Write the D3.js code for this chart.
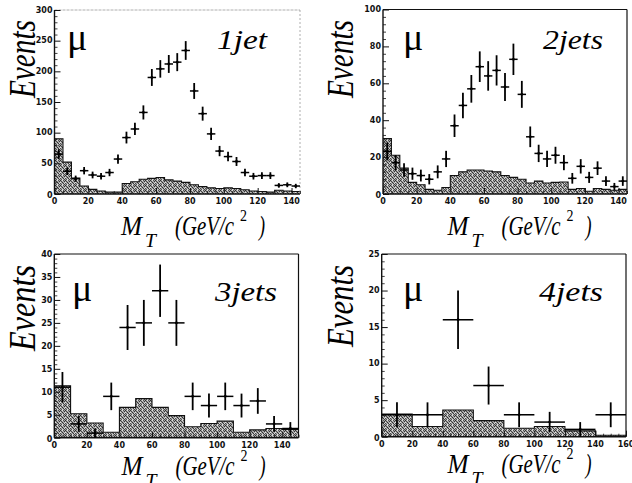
<!DOCTYPE html>
<html><head><meta charset="utf-8">
<script src="https://cdn.jsdelivr.net/npm/d3@7/dist/d3.min.js"></script>
</head><body style="margin:0">
<svg id="chart" width="632" height="483" style="display:block;background:#fff"></svg>
<script>
// ---------------- DATA ----------------
// 1 jet (5 GeV bins, 0-145)
const jet1Centers = [2.5,7.5,12.5,17.5,22.5,27.5,32.5,37.5,42.5,47.5,52.5,57.5,62.5,67.5,72.5,77.5,82.5,87.5,92.5,97.5,102.5,107.5,112.5,117.5,122.5,127.5,132.5,137.5,142.5];
const jet1Data = [65,37,25,38,31,29,35,57,92,106,133,190,204,212,215,234,168,131,98,70,61,53,35,29,30,30,14,15,13];
const jet1Err  = [8,6,5,6,5.5,5.4,6,7.5,9.6,10,11.5,13.8,14.3,14.6,14.7,15.3,13,11.4,10,8.4,7.8,7.3,6,5.4,5.5,5.5,3.7,3.9,3.6];
const jet1BinLo = [0,5,10,15,20,25,30,35,40,45,50,55,60,65,70,75,80,85,90,95,100,105,110,115,120,125,130,135,140];
const jet1Bkg  = [90,52,26,13,7.5,5,3,3,17,20,24,25.5,27,23,21,19,15,12,10,9,10,9,7,5,4,3,6,5,4];
const jet1YTicks = [0,50,100,150,200,250,300];
const jet1XTicks = [0,20,40,60,80,100,120,140];

// 2 jets (5 GeV bins, 0-145)
const jet2Centers = [2.5,7.5,12.5,17.5,22.5,27.5,32.5,37.5,42.5,47.5,52.5,57.5,62.5,67.5,72.5,77.5,82.5,87.5,92.5,97.5,102.5,107.5,112.5,117.5,122.5,127.5,132.5,137.5,142.5];
const jet2Data = [23,17,13,11,10,8,12,19,37,48,57,69,64,67,58,73,54,31,22,19,21,17,8.5,15,9,14,7,4,7];
const jet2Err  = [4.8,4.1,3.6,3.3,3.2,2.8,3.5,4.4,6.1,6.9,7.5,8.3,8,8.2,7.6,8.5,7.3,5.6,4.7,4.4,4.6,4.1,2.9,3.9,3,3.7,2.6,2,2.6];
const jet2BinLo = [0,5,10,15,20,25,30,35,40,45,50,55,60,65,70,75,80,85,90,95,100,105,110,115,120,125,130,135,140];
const jet2Bkg  = [30,21,14,6.3,5,2.5,2,3.5,10,12,13,13,12.5,12,10,9,8,6,7,6,6.3,6.5,2.5,3,1.5,3,2.5,2,2.5];
const jet2YTicks = [0,20,40,60,80,100];
const jet2XTicks = [0,20,40,60,80,100,120,140];

// 3 jets (10 GeV bins, 0-150)
const jet3Centers = [5,15,25,35,45,55,65,75,85,95,105,115,125,135,145];
const jet3Data = [11,3,1,9,24,25,32,25,9,7,9,7,8,3,2];
const jet3Err  = [3.3,1.7,1,3,4.9,5,5.7,5,3,2.6,3,2.6,2.8,1.7,1.4];
const jet3BinLo = [0,10,20,30,40,50,60,70,80,90,100,110,120,130,140];
const jet3Bkg  = [11.3,5.2,3.2,1.2,6.6,8.5,6.6,4.8,2.4,3.1,3.6,1.2,1.7,2,1.8];
const jet3YTicks = [0,5,10,15,20,25,30,35,40];
const jet3XTicks = [0,20,40,60,80,100,120,140];

// 4 jets (20 GeV bins, 0-160)
const jet4Centers = [10,30,50,70,90,110,130,150];
const jet4Data = [3,3,16,7,3,2,1,3];
const jet4Err  = [1.7,1.7,4,2.6,1.7,1.4,1,1.7];
const jet4BinLo = [0,20,40,60,80,100,120,140];
const jet4Bkg  = [3.1,1.4,3.65,2.2,1.15,1.4,0.8,0.2];
const jet4YTicks = [0,5,10,15,20,25];
const jet4XTicks = [0,20,40,60,80,100,120,140,160];

const panelLabels = ["1jet","2jets","3jets","4jets"];

// ---------------- LAYOUT ----------------
const panels = [
  {c:jet1Centers,d:jet1Data,e:jet1Err,lo:jet1BinLo,bk:jet1Bkg,yt:jet1YTicks,xt:jet1XTicks,lab:panelLabels[0],
   bw:5,xMax:145,yMax:300,yMinor:10,xMinor:5,
   box:{l:54.5,r:300,t:10,b:194},faint:true,
   mu:{x:67,y:50},jl:{x:217,y:49,len:50},ev:{x:35,y:59,len:78},xl:{x:121,y:235}},
  {c:jet2Centers,d:jet2Data,e:jet2Err,lo:jet2BinLo,bk:jet2Bkg,yt:jet2YTicks,xt:jet2XTicks,lab:panelLabels[1],
   bw:5,xMax:145,yMax:100,yMinor:4,xMinor:5,
   box:{l:383,r:627,t:9.5,b:194},faint:false,
   mu:{x:403,y:50},jl:{x:543,y:49,len:60},ev:{x:352.5,y:59,len:78},xl:{x:447.5,y:235}},
  {c:jet3Centers,d:jet3Data,e:jet3Err,lo:jet3BinLo,bk:jet3Bkg,yt:jet3YTicks,xt:jet3XTicks,lab:panelLabels[2],
   bw:10,xMax:150,yMax:40,yMinor:1,xMinor:5,
   box:{l:54.3,r:298.5,t:254,b:437.7},faint:false,
   mu:{x:72,y:301},jl:{x:215,y:301,len:62},ev:{x:35,y:308,len:86},xl:{x:121.5,y:475}},
  {c:jet4Centers,d:jet4Data,e:jet4Err,lo:jet4BinLo,bk:jet4Bkg,yt:jet4YTicks,xt:jet4XTicks,lab:panelLabels[3],
   bw:20,xMax:160,yMax:25,yMinor:1,xMinor:5,
   box:{l:381.7,r:626,t:254,b:436.7},faint:false,
   mu:{x:403,y:301},jl:{x:539,y:301,len:64},ev:{x:352.5,y:306,len:82},xl:{x:447.5,y:473}}
];

const svg = d3.select("#chart");
const defs = svg.append("defs");
// irregular stipple pattern (grey base with scattered dark specks)
const pat = defs.append("pattern").attr("id","stip").attr("patternUnits","userSpaceOnUse")
  .attr("width",5).attr("height",5);
pat.append("rect").attr("width",5).attr("height",5).attr("fill","#a6a6a6");
const specks = [[0,0,"#2a2a2a"],[3,0,"#555"],[1,1,"#444"],[4,1,"#333"],[2,2,"#2e2e2e"],[0,3,"#4a4a4a"],
                [3,3,"#3a3a3a"],[1,4,"#555"],[4,4,"#444"],[2,0,"#ddd"],[0,2,"#e0e0e0"],[4,3,"#d8d8d8"],[2,4,"#ddd"]];
specks.forEach(([px,py,col])=>pat.append("rect").attr("x",px).attr("y",py).attr("width",1).attr("height",1).attr("fill",col));

function serifText(sel, size, italic){
  return sel.attr("font-size",size).style("font-family",'"Liberation Serif"')
    .style("font-style",italic?"italic":"normal");
}
function sansText(sel){
  return sel.attr("font-size",8).style("font-family",'"DejaVu Sans"').style("font-weight","bold");
}

panels.forEach(p => {
  const b = p.box;
  const x = d3.scaleLinear().domain([0,p.xMax]).range([b.l,b.r]);
  const y = d3.scaleLinear().domain([0,p.yMax]).range([b.b,b.t]);
  const g = svg.append("g");

  // background histogram
  const pts = p.lo.map((lo,i)=>[lo,p.bk[i]]);
  pts.push([p.lo[p.lo.length-1]+p.bw, p.bk[p.bk.length-1]]);
  const area = d3.area().curve(d3.curveStepAfter).x(d=>x(d[0])).y0(y(0)).y1(d=>y(d[1]));
  g.append("path").attr("d",area(pts)).attr("fill","url(#stip)");
  const line = d3.line().curve(d3.curveStepAfter).x(d=>x(d[0])).y(d=>y(d[1]));
  g.append("path").attr("d",line(pts)).attr("fill","none").attr("stroke","#111").attr("stroke-width",1.1);

  // frame
  const fc = p.faint ? "#999" : "#111";
  g.append("line").attr("x1",b.l).attr("x2",b.r).attr("y1",b.t).attr("y2",b.t)
    .attr("stroke",fc).attr("stroke-width",p.faint?0.8:1.2).attr("stroke-dasharray",p.faint?"3,1":null);
  g.append("line").attr("x1",b.r).attr("x2",b.r).attr("y1",b.t).attr("y2",b.b)
    .attr("stroke",fc).attr("stroke-width",p.faint?0.8:1.2).attr("stroke-dasharray",p.faint?"2,2":null);
  g.append("line").attr("x1",b.l).attr("x2",b.l).attr("y1",b.t).attr("y2",b.b).attr("stroke","#111").attr("stroke-width",1.4);
  g.append("line").attr("x1",b.l).attr("x2",b.r).attr("y1",b.b).attr("y2",b.b).attr("stroke","#111").attr("stroke-width",1.4);

  // y ticks (inward)
  const ya = g.append("g").attr("transform",`translate(${b.l},0)`).call(d3.axisRight(y).tickValues(p.yt).tickSize(6).tickFormat(""));
  ya.select(".domain").remove();
  ya.selectAll("line").attr("stroke","#111").attr("stroke-width",1);
  const yMinorVals = d3.range(0,p.yMax+1e-9,p.yMinor).filter(v=>!p.yt.includes(v));
  const ym = g.append("g").attr("transform",`translate(${b.l},0)`).call(d3.axisRight(y).tickValues(yMinorVals).tickSize(3).tickFormat(""));
  ym.select(".domain").remove();
  ym.selectAll("line").attr("stroke","#111").attr("stroke-width",0.8);
  sansText(g.selectAll(".ylab").data(p.yt).enter().append("text")
    .attr("x",b.l-2).attr("y",d=>y(d)+(d===0?4:2.8)).attr("text-anchor","end"))
    .attr("fill","#111").text(d=>d);

  // x ticks (inward)
  const xa = g.append("g").attr("transform",`translate(0,${b.b})`).call(d3.axisTop(x).tickValues(p.xt.filter(v=>v<=p.xMax)).tickSize(6).tickFormat(""));
  xa.select(".domain").remove();
  xa.selectAll("line").attr("stroke","#111").attr("stroke-width",1);
  const xMinorVals = d3.range(0,p.xMax+1e-9,p.xMinor).filter(v=>!p.xt.includes(v));
  const xm = g.append("g").attr("transform",`translate(0,${b.b})`).call(d3.axisTop(x).tickValues(xMinorVals).tickSize(3).tickFormat(""));
  xm.select(".domain").remove();
  xm.selectAll("line").attr("stroke","#111").attr("stroke-width",0.8);
  sansText(g.selectAll(".xlab").data(p.xt).enter().append("text")
    .attr("x",d=>x(d)).attr("y",b.b+10).attr("text-anchor","middle"))
    .attr("fill","#111").text(d=>d);

  // data points with error bars
  const pg = g.append("g");
  p.c.forEach((cx,i)=>{
    const v = p.d[i], e = p.e[i];
    pg.append("line").attr("x1",x(cx)).attr("x2",x(cx)).attr("y1",y(v-e)).attr("y2",y(v+e))
      .attr("stroke","#000").attr("stroke-width",1.8);
    pg.append("line").attr("x1",x(cx-p.bw/2)).attr("x2",x(cx+p.bw/2)).attr("y1",y(v)).attr("y2",y(v))
      .attr("stroke","#000").attr("stroke-width",1.5);
    pg.append("circle").attr("cx",x(cx)).attr("cy",y(v)).attr("r",1.4).attr("fill","#000");
  });

  // mu
  serifText(g.append("text").attr("x",p.mu.x).attr("y",p.mu.y), 38, false).attr("fill","#000").text("\u03bc");
  // jet label
  serifText(g.append("text").attr("x",p.jl.x).attr("y",p.jl.y), 28, true)
    .attr("textLength",p.jl.len).attr("lengthAdjust","spacingAndGlyphs").attr("fill","#000").text(p.lab);
  // Events
  serifText(g.append("text").attr("transform",`translate(${p.ev.x},${p.ev.y}) rotate(-90)`).attr("text-anchor","middle"), 38, true)
    .attr("textLength",p.ev.len).attr("lengthAdjust","spacingAndGlyphs").attr("fill","#000").text("Events");
  // x label
  const xg = g.append("g").attr("transform",`translate(${p.xl.x},${p.xl.y})`).attr("fill","#000");
  serifText(xg.append("text").attr("x",0).attr("y",0), 27, true).attr("textLength",21).attr("lengthAdjust","spacingAndGlyphs").text("M");
  serifText(xg.append("text").attr("x",24).attr("y",12), 18, true).attr("textLength",11).attr("lengthAdjust","spacingAndGlyphs").text("T");
  serifText(xg.append("text").attr("x",54).attr("y",0), 28, true).attr("textLength",59).attr("lengthAdjust","spacingAndGlyphs").text("(GeV/c");
  serifText(xg.append("text").attr("x",119).attr("y",-14), 16, false).attr("textLength",7).attr("lengthAdjust","spacingAndGlyphs").text("2");
  serifText(xg.append("text").attr("x",138).attr("y",0), 28, true).attr("textLength",6).attr("lengthAdjust","spacingAndGlyphs").text(")");
});
</script>
</body></html>
